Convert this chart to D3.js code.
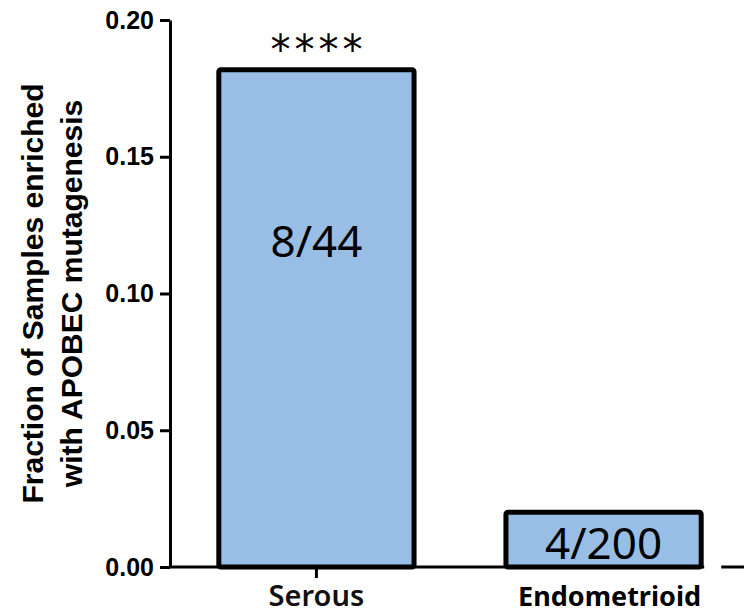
<!DOCTYPE html>
<html>
<head>
<meta charset="utf-8">
<script src="https://cdnjs.cloudflare.com/ajax/libs/d3/7.8.5/d3.min.js"></script>
<style>
  body { margin: 0; background: #fff; }
  svg { display: block; }
</style>
</head>
<body>
<svg id="chart" width="744" height="614"></svg>
<script>
// values
var categories = ["Serous", "Endometrioid"];
var fractions = [8 / 44, 4 / 200];
var counts = ["8/44", "4/200"];
var yTicks = [0, 0.05, 0.10, 0.15, 0.20];
var stars = ["****", ""];

var svg = d3.select("#chart"),
    margin = {top: 20, right: 0, bottom: 47, left: 170},
    width = +svg.attr("width") - margin.left - margin.right,
    height = +svg.attr("height") - margin.top - margin.bottom,
    g = svg.append("g").attr("transform", "translate(" + margin.left + "," + margin.top + ")");

var x = d3.scaleBand()
  .domain(categories)
  .range([0, 580])
  .paddingInner(0.32)
  .paddingOuter(0.17);

var y = d3.scaleLinear()
  .domain([0, 0.20])
  .range([height, 0]);

// bars
g.selectAll("rect.bar")
  .data(categories)
  .enter().append("rect")
  .attr("class", "bar")
  .attr("x", function(d) { return x(d); })
  .attr("y", function(d, i) { return y(fractions[i]); })
  .attr("width", x.bandwidth())
  .attr("height", function(d, i) { return height - y(fractions[i]); })
  .attr("rx", 2)
  .style("fill", "#99bee5")
  .style("stroke", "#000")
  .style("stroke-width", "5px");

// y axis
var yAxis = g.append("g")
  .attr("class", "axis")
  .call(d3.axisLeft(y)
    .tickValues(yTicks)
    .tickFormat(d3.format(".2f"))
    .tickSize(10)
    .tickSizeOuter(0)
  );
yAxis.select(".domain").style("stroke", "#000").style("stroke-width", "3px");
yAxis.selectAll(".tick line").style("stroke", "#000").style("stroke-width", "3px");
yAxis.selectAll(".tick text")
  .attr("x", -16)
  .style("font-family", "'Liberation Sans', Arial, sans-serif")
  .style("font-weight", "bold")
  .style("font-size", "25px")
  .style("fill", "#000");

// x axis line, running to the edge
g.append("line")
  .attr("x1", 0).attr("x2", width)
  .attr("y1", height).attr("y2", height)
  .style("stroke", "#000")
  .style("stroke-width", "3px");

// the pasted label box leaves a white gap in the axis right of the second bar
g.append("rect")
  .attr("x", x("Endometrioid") + x.bandwidth() + 3)
  .attr("y", height - 3)
  .attr("width", 17)
  .attr("height", 6)
  .style("fill", "#fff");

// serous tick
g.append("line")
  .attr("x1", x("Serous") + x.bandwidth() / 2)
  .attr("x2", x("Serous") + x.bandwidth() / 2)
  .attr("y1", height).attr("y2", height + 11)
  .style("stroke", "#000")
  .style("stroke-width", "3px");

// category labels
g.append("text")
  .attr("x", x("Serous") + x.bandwidth() / 2)
  .attr("y", height + 39)
  .attr("text-anchor", "middle")
  .style("font-family", "'Noto Sans', 'Open Sans', sans-serif")
  .style("font-weight", "600")
  .style("font-size", "29px")
  .style("fill", "#111")
  .text(categories[0]);

g.append("text")
  .attr("x", x("Endometrioid") + x.bandwidth() / 2 + 6)
  .attr("y", height + 39)
  .attr("text-anchor", "middle")
  .style("font-family", "'Noto Sans', 'Open Sans', sans-serif")
  .style("font-weight", "bold")
  .style("font-size", "27px")
  .style("fill", "#000")
  .text(categories[1]);

// counts inside bars
g.selectAll("text.count")
  .data(categories)
  .enter().append("text")
  .attr("class", "count")
  .attr("x", function(d) { return x(d) + x.bandwidth() / 2; })
  .attr("y", function(d, i) { return i === 0 ? y(0.1135) : height - 8; })
  .attr("text-anchor", "middle")
  .style("font-family", "'Noto Sans', 'Open Sans', sans-serif")
  .style("font-size", "44px")
  .style("fill", "#000")
  .text(function(d, i) { return counts[i]; });

// significance stars
g.selectAll("text.stars")
  .data(categories)
  .enter().append("text")
  .attr("class", "stars")
  .attr("x", function(d) { return x(d) + x.bandwidth() / 2 + 2; })
  .attr("y", function(d, i) { return y(fractions[i]) - 6; })
  .attr("text-anchor", "middle")
  .style("font-family", "'DejaVu Sans', sans-serif")
  .style("font-size", "40px")
  .style("letter-spacing", "4px")
  .style("fill", "#000")
  .text(function(d, i) { return stars[i]; });

// y axis title
var title = svg.append("text")
  .attr("transform", "translate(43," + (margin.top + y(0.1)) + ") rotate(-90)")
  .attr("text-anchor", "middle")
  .style("font-family", "'Liberation Sans', Arial, sans-serif")
  .style("font-weight", "bold")
  .style("font-size", "30px")
  .style("fill", "#000");
title.append("tspan").attr("x", 0).attr("dy", 0).text("Fraction of Samples enriched");
title.append("tspan").attr("x", 0).attr("dy", 39).text("with APOBEC mutagenesis");
</script>
</body>
</html>
